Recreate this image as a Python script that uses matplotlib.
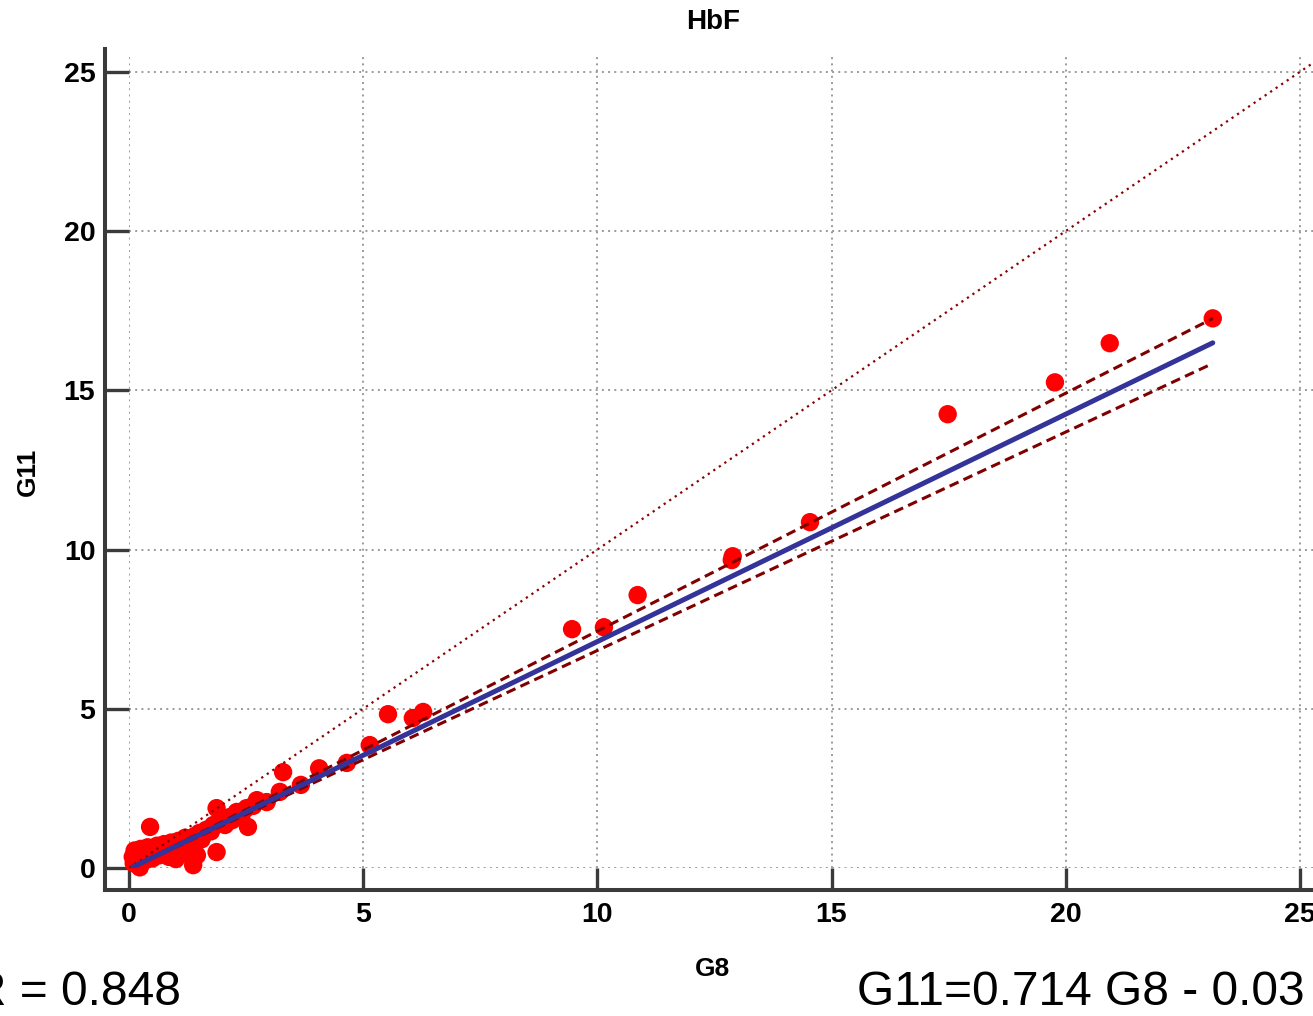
import numpy as np
import matplotlib
matplotlib.use("Agg")
from matplotlib import pyplot as plt

# HbF measured on both analysers
g8 = [0.08, 0.10, 0.12, 0.15, 0.18, 0.20, 0.23, 0.25, 0.28, 0.32,
      0.36, 0.40, 0.45, 0.45, 0.50, 0.55, 0.60, 0.65, 0.70, 0.75,
      0.80, 0.85, 0.90, 0.95, 1.00, 1.05, 1.10, 1.15, 1.20, 1.25,
      1.30, 1.37, 1.40, 1.45, 1.50, 1.55, 1.65, 1.75, 1.80, 1.87,
      1.87, 1.95, 2.05, 2.15, 2.20, 2.30, 2.40, 2.51, 2.54, 2.65,
      2.73, 2.94, 3.22, 3.29, 3.67, 4.06, 4.65, 5.14, 5.53, 6.06,
      6.28, 9.46, 10.14, 10.86, 12.87, 12.89, 14.54, 17.48, 19.77, 20.94,
      23.14]
g11 = [0.35, 0.15, 0.55, 0.30, 0.45, 0.20, 0.02, 0.60, 0.35, 0.50,
       0.25, 0.65, 1.29, 0.40, 0.30, 0.55, 0.70, 0.40, 0.60, 0.75,
       0.50, 0.35, 0.80, 0.60, 0.28, 0.85, 0.70, 0.45, 0.95, 0.80,
       0.55, 0.09, 1.00, 0.40, 1.10, 0.90, 1.20, 1.15, 1.35, 1.88,
       0.50, 1.45, 1.35, 1.60, 1.50, 1.76, 1.65, 1.88, 1.29, 1.95,
       2.13, 2.07, 2.39, 3.01, 2.61, 3.13, 3.30, 3.86, 4.83, 4.71,
       4.90, 7.50, 7.56, 8.57, 9.67, 9.79, 10.86, 14.25, 15.25, 16.48,
       17.26]

# regression and its confidence limits
slope = 0.714
intercept = -0.03
slope_upper = 0.747
slope_lower = 0.686
r_value = 0.848

plt.rcParams['font.family'] = 'Liberation Sans'

W, H = 1313, 1016
fig = plt.figure(figsize=(W / 100, H / 100), dpi=100)
ax = fig.add_axes([129 / W, 1 - 868 / H, 1 - 129 / W, (868 - 55) / H])

ax.set_xlim(0, 25.28)
ax.set_ylim(0, 25.53)
ax.set_xticks([0, 5, 10, 15, 20, 25])
ax.set_yticks([0, 5, 10, 15, 20, 25])

ax.grid(True, color='#9a9a9a', linestyle=(0, (1, 2.2)), linewidth=1.4)
ax.set_axisbelow(True)

x = np.array(g8)
y = np.array(g11)
ax.scatter(x, y, s=175, color='#ff0000', edgecolors='none', zorder=2, clip_on=False)

# line of identity
ax.plot([0, 25.6], [0, 25.6], color='#8b0000', linestyle=(0, (1, 2)), linewidth=1.6, zorder=3)

xs = np.array([x.min(), x.max()])
ax.plot(xs, slope_upper * xs + intercept, color='#800000', linestyle=(0, (3.2, 1.8)),
        linewidth=2.2, zorder=3)
ax.plot(xs, slope_lower * xs + intercept, color='#800000', linestyle=(0, (3.2, 1.8)),
        linewidth=2.2, zorder=3)
ax.plot(xs, slope * xs + intercept, color='#333399', linewidth=3.6,
        solid_capstyle='round', zorder=4)

# offset axes
for side in ['top', 'right']:
    ax.spines[side].set_visible(False)
ax.spines['left'].set_position(('outward', 24 * 0.72))
ax.spines['bottom'].set_position(('outward', 22 * 0.72))
ax.spines['left'].set_bounds(-0.69, 25.72)
ax.spines['bottom'].set_bounds(-0.51, 25.28)
for side in ['left', 'bottom']:
    ax.spines[side].set_linewidth(2.9)
    ax.spines[side].set_color('#3a3a3a')

ax.tick_params(axis='y', direction='in', length=24 * 0.72, width=2.4,
               color='#3a3a3a', pad=7, labelsize=20.5)
ax.tick_params(axis='x', direction='in', length=22 * 0.72, width=2.4,
               color='#3a3a3a', pad=9, labelsize=20.5)
for lab in ax.get_xticklabels() + ax.get_yticklabels():
    lab.set_fontweight('bold')

fig.text(713 / W, 1 - 29 / H, 'HbF', ha='center', va='baseline',
         fontsize=20, fontweight='bold')
fig.text(713 / W, 1 - 976 / H, 'G8', ha='center', va='baseline',
         fontsize=19, fontweight='bold')
fig.text(28 / W, 1 - 472 / H, 'G11', ha='center', va='center', rotation=90,
         fontsize=19, fontweight='bold')

fig.text(181 / W, 1 - 1005 / H, 'R = %.3f' % r_value, ha='right', va='baseline',
         fontsize=34.5)
fig.text(857 / W, 1 - 1005 / H, 'G11=%.3f G8 - %.2f' % (slope, -intercept),
         ha='left', va='baseline', fontsize=34.5)

fig.savefig('out.png', dpi=100)
